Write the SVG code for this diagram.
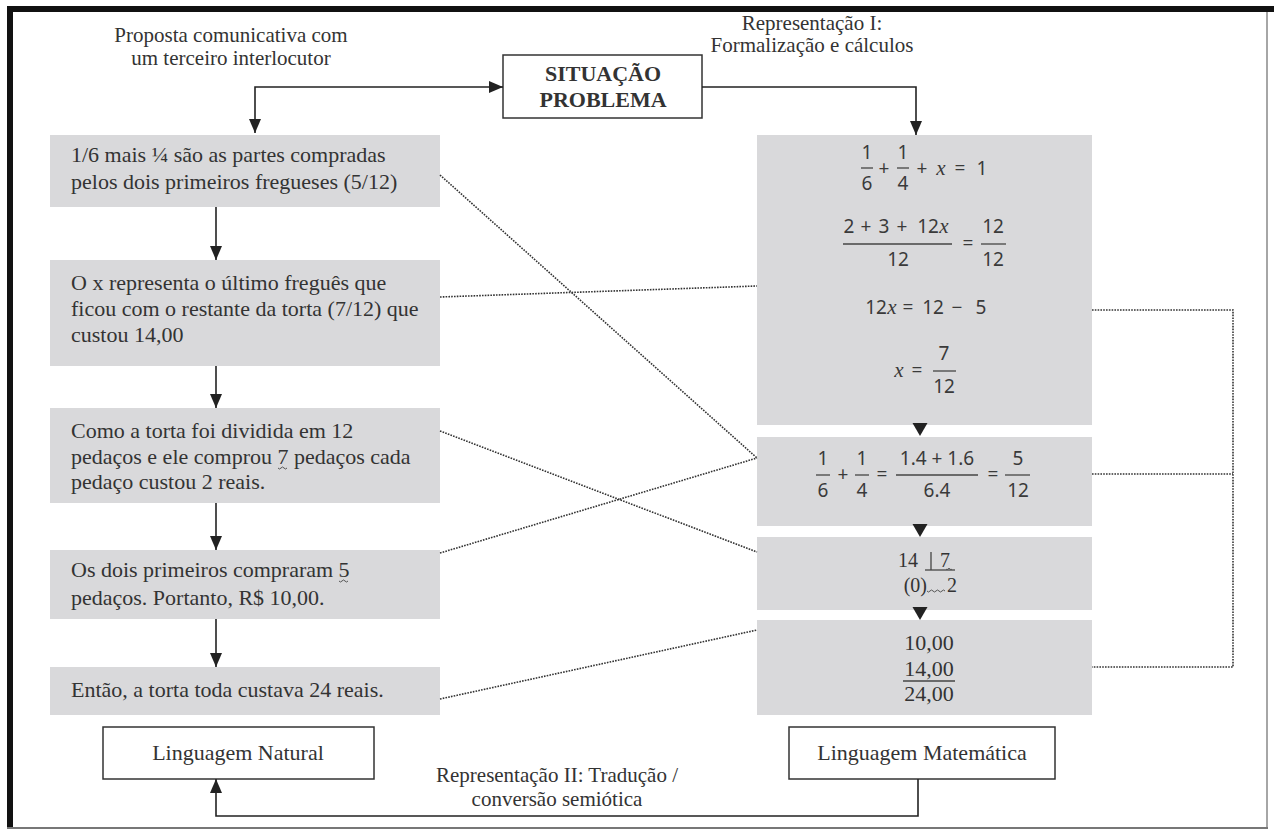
<svg xmlns="http://www.w3.org/2000/svg" width="1274" height="833" viewBox="0 0 1274 833">
<style>
.box{fill:#d9d9db}
.wbox{fill:#fff;stroke:#333;stroke-width:1.5}
.t{font-family:"Liberation Serif","Times New Roman",serif;font-size:22px;fill:#333}
.lab{font-size:21px}
.c{text-anchor:middle}
.b{font-weight:bold}
.m{font-family:"Noto Sans","DejaVu Sans",sans-serif;font-size:19px;fill:#3a3a3a;text-anchor:middle}
.mi{font-family:"Liberation Serif",serif;font-style:italic;font-size:21px}
.ln{stroke:#222;stroke-width:1.6;fill:none}
.dot{stroke:#333;stroke-width:1.6;stroke-dasharray:1.6 1.2;fill:none}
.bar{stroke:#444;stroke-width:1.3}
.wave{stroke:#555;stroke-width:1;fill:none}
</style>
<defs>
<marker id="ah" viewBox="0 0 14 12" markerWidth="14" markerHeight="12" refX="14" refY="6" orient="auto-start-reverse" markerUnits="userSpaceOnUse">
<path d="M0,0 L14,6 L0,12 z" fill="#222"/>
</marker>
<path id="tri" d="M-7.5,0 L7.5,0 L0,13 z" fill="#222"/>
</defs>

<!-- frame -->
<rect x="7" y="6" width="1267" height="6" fill="#111"/>
<rect x="7" y="6" width="6" height="823" fill="#111"/>
<line x1="1267" y1="12" x2="1267" y2="829" stroke="#888" stroke-width="1.5"/>
<line x1="7" y1="828" x2="1268" y2="828" stroke="#777" stroke-width="2"/>

<!-- free labels -->
<g id="label-proposta">
<text class="t c lab" x="231" y="42">Proposta comunicativa com</text>
<text class="t c lab" x="231" y="65">um terceiro interlocutor</text>
</g>
<g id="label-rep1">
<text class="t c lab" x="812" y="30">Representação I:</text>
<text class="t c lab" x="812" y="52">Formalização e cálculos</text>
</g>
<g id="label-rep2">
<text class="t c lab" x="557" y="782">Representação II: Tradução /</text>
<text class="t c lab" x="557" y="806">conversão semiótica</text>
</g>

<!-- nodes -->
<g id="situacao">
<rect class="wbox" x="503" y="55" width="199" height="63"/>
<text class="t c b" x="603" y="81">SITUAÇÃO</text>
<text class="t c b" x="603" y="107">PROBLEMA</text>
</g>

<g id="n1">
<rect class="box" x="50" y="135" width="390" height="72"/>
<text class="t" x="71" y="162">1/6 mais ¼ são as partes compradas</text>
<text class="t" x="71" y="189">pelos dois primeiros fregueses (5/12)</text>
</g>
<g id="n2">
<rect class="box" x="50" y="260" width="390" height="106"/>
<text class="t" x="71" y="290">O x representa o último freguês que</text>
<text class="t" x="71" y="316">ficou com o restante da torta (7/12) que</text>
<text class="t" x="71" y="342">custou 14,00</text>
</g>
<g id="n3">
<rect class="box" x="50" y="408" width="390" height="95"/>
<text class="t" x="71" y="438">Como a torta foi dividida em 12</text>
<text class="t" x="71" y="464">pedaços e ele comprou 7 pedaços cada</text>
<text class="t" x="71" y="489">pedaço custou 2 reais.</text>
<path class="wave" d="M278,468 q1.5,2 3,0 t3,0 t3,0"/>
</g>
<g id="n4">
<rect class="box" x="50" y="550" width="390" height="69"/>
<text class="t" x="71" y="577">Os dois primeiros compraram 5</text>
<text class="t" x="71" y="605">pedaços. Portanto, R$ 10,00.</text>
<path class="wave" d="M339,581 q1.5,2 3,0 t3,0 t3,0"/>
</g>
<g id="n5">
<rect class="box" x="50" y="667" width="390" height="48"/>
<text class="t" x="71" y="697">Então, a torta toda custava 24 reais.</text>
</g>
<g id="ling-natural">
<rect class="wbox" x="103" y="727" width="271" height="52"/>
<text class="t c" x="238" y="760">Linguagem Natural</text>
</g>

<g id="m1">
<rect class="box" x="757" y="135" width="335" height="290"/>
<text class="m" x="867" y="159">1</text><line class="bar" x1="861" y1="168" x2="873" y2="168"/><text class="m" x="867" y="190">6</text>
<text class="m" x="884" y="175">+</text>
<text class="m" x="903" y="159">1</text><line class="bar" x1="897" y1="168" x2="909" y2="168"/><text class="m" x="903" y="190">4</text>
<text class="m" x="922" y="175">+</text>
<text class="m mi" x="941" y="175">x</text>
<text class="m" x="960" y="175">=</text>
<text class="m" x="982" y="175">1</text>

<text class="m" x="849" y="233">2</text>
<text class="m" x="866" y="233">+</text>
<text class="m" x="884" y="233">3</text>
<text class="m" x="902" y="233">+</text>
<text class="m" x="928" y="233">12</text>
<text class="m mi" x="944" y="233">x</text>
<line class="bar" x1="843" y1="244" x2="952" y2="244"/>
<text class="m" x="898" y="266">12</text>
<text class="m" x="968" y="250">=</text>
<text class="m" x="993" y="233">12</text><line class="bar" x1="981" y1="244" x2="1006" y2="244"/><text class="m" x="993" y="266">12</text>

<text class="m" x="876" y="314">12</text>
<text class="m mi" x="892" y="314">x</text>
<text class="m" x="908" y="314">=</text>
<text class="m" x="933" y="314">12</text>
<text class="m" x="957" y="314">−</text>
<text class="m" x="981" y="314">5</text>

<text class="m mi" x="899" y="377">x</text>
<text class="m" x="917" y="377">=</text>
<text class="m" x="944" y="360">7</text><line class="bar" x1="933" y1="371" x2="956" y2="371"/><text class="m" x="944" y="393">12</text>
</g>

<g id="m2">
<rect class="box" x="757" y="437" width="335" height="89"/>
<text class="m" x="823" y="465">1</text><line class="bar" x1="816" y1="475" x2="830" y2="475"/><text class="m" x="823" y="497">6</text>
<text class="m" x="843" y="481">+</text>
<text class="m" x="862" y="465">1</text><line class="bar" x1="855" y1="475" x2="869" y2="475"/><text class="m" x="862" y="497">4</text>
<text class="m" x="882" y="481">=</text>
<text class="m" x="937" y="465">1.4 + 1.6</text><line class="bar" x1="896" y1="475" x2="978" y2="475"/><text class="m" x="937" y="497">6.4</text>
<text class="m" x="993" y="481">=</text>
<text class="m" x="1018" y="465">5</text><line class="bar" x1="1005" y1="475" x2="1030" y2="475"/><text class="m" x="1018" y="497">12</text>
</g>

<g id="m3">
<rect class="box" x="757" y="537" width="335" height="73"/>
<text class="t" x="918" y="567" text-anchor="end" style="font-size:20px">14</text>
<line class="bar" x1="931" y1="552" x2="931" y2="570"/>
<line class="bar" x1="925" y1="570" x2="955" y2="570"/>
<text class="t c" x="945" y="567" style="font-size:20px">7</text>
<path class="wave" d="M946,569 q1,1.5 2,0 t2,0 t2,0"/>
<text class="t" x="927" y="592" text-anchor="end" style="font-size:20px">(0)</text>
<path class="wave" d="M927,591 q1.5,2 3,0 t3,0 t3,0 t3,0 t3,0 t3,0"/>
<text class="t c" x="952" y="592" style="font-size:20px">2</text>
</g>

<g id="m4">
<rect class="box" x="757" y="620" width="335" height="95"/>
<text class="t c" x="929" y="650">10,00</text>
<text class="t c" x="929" y="676">14,00</text>
<line class="bar" x1="903" y1="681" x2="955" y2="681"/>
<text class="t c" x="929" y="701">24,00</text>
</g>

<g id="ling-mat">
<rect class="wbox" x="789" y="727" width="266" height="52"/>
<text class="t c" x="922" y="760">Linguagem Matemática</text>
</g>

<!-- connectors -->
<g id="connectors">
<path class="ln" d="M255,133 V87 H503" marker-start="url(#ah)" marker-end="url(#ah)"/>
<path class="ln" d="M702,87 H916 V135" marker-end="url(#ah)"/>
<path class="ln" d="M216,207 V260" marker-end="url(#ah)"/>
<path class="ln" d="M216,366 V408" marker-end="url(#ah)"/>
<path class="ln" d="M216,503 V550" marker-end="url(#ah)"/>
<path class="ln" d="M216,619 V667" marker-end="url(#ah)"/>
<path class="ln" d="M918,779 V816 H216 V779" marker-end="url(#ah)"/>
<use href="#tri" x="920" y="423"/>
<use href="#tri" x="920" y="524"/>
<use href="#tri" x="920" y="607"/>
<line class="dot" x1="440" y1="175" x2="757" y2="458"/>
<line class="dot" x1="440" y1="297" x2="757" y2="286"/>
<line class="dot" x1="440" y1="431" x2="757" y2="552"/>
<line class="dot" x1="440" y1="553" x2="757" y2="458"/>
<line class="dot" x1="440" y1="699" x2="757" y2="630"/>
<path class="dot" d="M1092,310 H1233 V667 H1092"/>
<line class="dot" x1="1092" y1="474" x2="1233" y2="474"/>
</g>
</svg>
